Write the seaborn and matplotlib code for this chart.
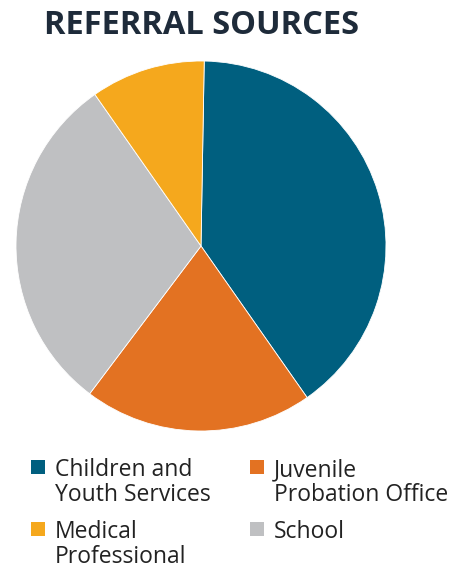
import matplotlib
matplotlib.use("Agg")
import matplotlib.pyplot as plt
from matplotlib.patches import Rectangle
import seaborn as sns

sns.set_theme(style="white")
plt.rcParams['font.family'] = ['Open Sans', 'DejaVu Sans']

categories = ["Children and\nYouth Services", "Juvenile\nProbation Office", "School", "Medical\nProfessional"]
values = [40, 20, 30, 10]
colors = ["#005F7F", "#E37222", "#BFC0C2", "#F5A81D"]

W, H = 461, 569
fig = plt.figure(figsize=(W / 100, H / 100), dpi=100)
ax = fig.add_axes([16 / W, (H - 431) / H, 370 / W, 370 / H])
wedges, _ = ax.pie(values, colors=colors, startangle=89, counterclock=False,
                   radius=1, wedgeprops=dict(edgecolor="white", linewidth=0.6))
ax.set_xlim(-1, 1)
ax.set_ylim(-1, 1)
ax.set_aspect("equal")
ax.axis("off")

fig.text(201 / W, 1 - 26 / H, "REFERRAL SOURCES", ha="center", va="center",
         fontsize=23.5, fontweight="bold", color="#1E2B3A")

# legend: 2 columns, squares aligned to first text line
slots = {0: (31, 460), 1: (250, 460), 3: (31, 522), 2: (250, 522)}
for i, (x, y) in slots.items():
    fig.patches.append(Rectangle((x / W, 1 - (y + 14) / H), 14 / W, 14 / H,
                                 transform=fig.transFigure, facecolor=wedges[i].get_facecolor(),
                                 edgecolor="none"))
    for k, line in enumerate(categories[i].split("\n")):
        fig.text((x + 24) / W, 1 - (y + 16 + 25 * k) / H, line, ha="left", va="baseline",
                 fontsize=16.5, color="#222222")

fig.savefig("out.png", dpi=100)
